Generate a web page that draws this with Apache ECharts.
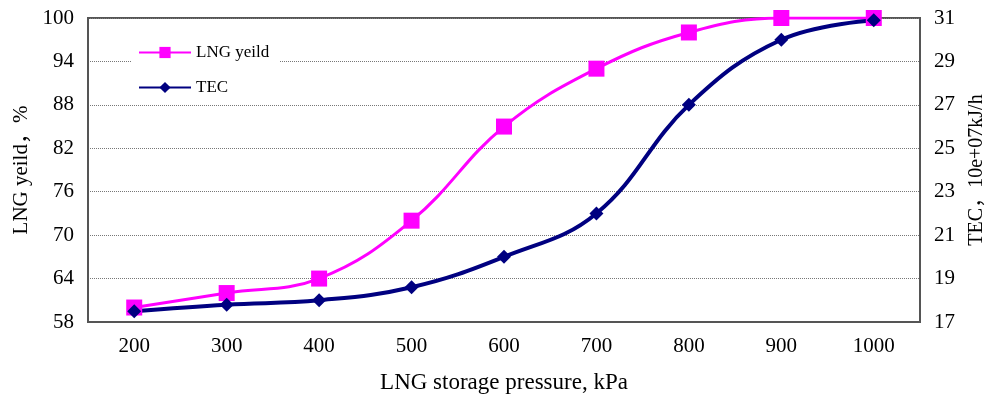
<!DOCTYPE html>
<html style="height: 100%">
    <head>
        <meta charset="utf-8">
    </head>
    <body style="height: 100%; margin: 0; background: #fff">
        <div id="container" style="width: 988px; height: 394px"></div>

        <script type="text/javascript" src="https://cdn.jsdelivr.net/npm/echarts@6/dist/echarts.min.js"></script>

        <script type="text/javascript">
var pressures = ['200', '300', '400', '500', '600', '700', '800', '900', '1000'];
var lngYield = [60, 62, 64, 72, 85, 93, 98, 100, 100];
var tec = [17.5, 17.8, 18.0, 18.6, 20.0, 22.0, 27.0, 30.0, 30.9];

var FONT = "'Liberation Serif', 'Noto Sans CJK SC', serif";

var dom = document.getElementById("container");
var myChart = echarts.init(dom);

var option = {
  animation: false,
  grid: {
    left: 88,
    right: 68,
    top: 18,
    bottom: 72,
    outerBoundsMode: 'none',
    containLabel: false,
    show: true,
    borderColor: '#555',
    borderWidth: 2
  },
  legend: {
    orient: 'vertical',
    left: 132,
    top: 40,
    itemWidth: 52,
    itemHeight: 14,
    itemGap: 18,
    backgroundColor: '#fff',
    padding: [4, 10, 4, 6],
    textStyle: { fontFamily: FONT, fontSize: 17, color: '#000' },
    data: ['LNG yeild', 'TEC']
  },
  xAxis: {
    type: 'category',
    data: pressures,
    boundaryGap: true,
    name: 'LNG storage pressure, kPa',
    nameLocation: 'middle',
    nameGap: 49,
    nameTextStyle: { fontFamily: FONT, fontSize: 23, color: '#000' },
    axisLine: { lineStyle: { color: '#555', width: 2 } },
    axisTick: { inside: true, length: 6, lineStyle: { color: '#555' } },
    axisLabel: { fontFamily: FONT, fontSize: 21, color: '#000', margin: 14 }
  },
  yAxis: [
    {
      type: 'value',
      min: 58,
      max: 100,
      interval: 6,
      name: 'LNG yeild，%',
      nameLocation: 'middle',
      nameGap: 51,
      nameTextStyle: { fontFamily: FONT, fontSize: 21, color: '#000' },
      axisLine: { show: true, lineStyle: { color: '#555', width: 2 } },
      axisTick: { show: false },
      axisLabel: { fontFamily: FONT, fontSize: 21, color: '#000', margin: 14 },
      splitLine: { lineStyle: { type: 'dotted', color: '#777', width: 1 } }
    },
    {
      type: 'value',
      min: 17,
      max: 31,
      interval: 2,
      name: 'TEC，10e+07kJ/h',
      nameLocation: 'middle',
      nameGap: 47,
      nameTextStyle: { fontFamily: FONT, fontSize: 20, color: '#000' },
      axisLine: { show: true, lineStyle: { color: '#555', width: 2 } },
      axisTick: { show: false },
      axisLabel: { fontFamily: FONT, fontSize: 21, color: '#000', margin: 14 },
      splitLine: { show: false }
    }
  ],
  series: [
    {
      name: 'LNG yeild',
      type: 'line',
      yAxisIndex: 0,
      data: lngYield,
      smooth: 0.4,
      symbol: 'rect',
      symbolSize: 16,
      color: '#ff00ff',
      lineStyle: { width: 3, color: '#ff00ff' },
      itemStyle: { color: '#ff00ff' }
    },
    {
      name: 'TEC',
      type: 'line',
      yAxisIndex: 1,
      data: tec,
      smooth: 0.4,
      symbol: 'diamond',
      symbolSize: 14,
      color: '#000080',
      lineStyle: { width: 4, color: '#000080' },
      itemStyle: { color: '#000080' }
    }
  ]
};

myChart.setOption(option);
        </script>
    </body>
</html>
